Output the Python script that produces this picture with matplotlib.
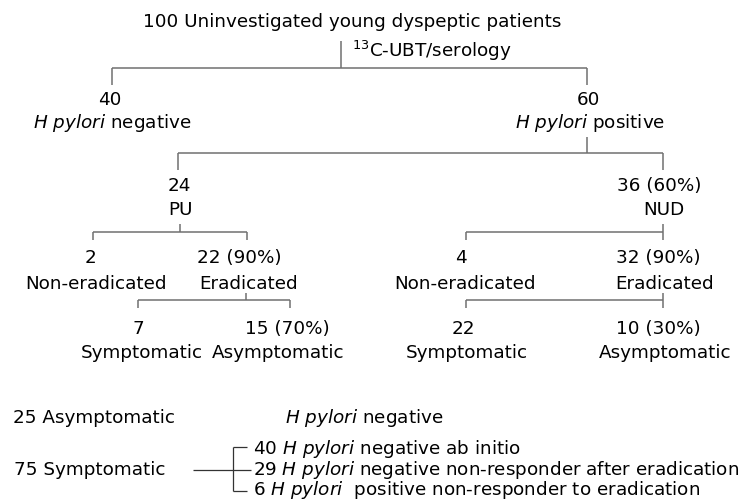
"""
Flow chart: outcome of test-and-treat in young dyspeptic patients.
Drawn on a pixel-sized axes (0..747 x 0..500, y downwards).
"""
import matplotlib
matplotlib.use("Agg")
import matplotlib.pyplot as plt

plt.rcParams["font.family"] = "DejaVu Sans"
plt.rcParams["mathtext.fontset"] = "custom"
plt.rcParams["mathtext.rm"] = "DejaVu Sans"
plt.rcParams["mathtext.it"] = "DejaVu Sans:italic"

HP = r"$\mathit{H\ pylori}$"

# ---- data -----------------------------------------------------------
root_label = "100 Uninvestigated young dyspeptic patients"
test_label = r"$^{13}$C-UBT/serology"

level1_counts = ["40", "60"]
level1_names = [HP + " negative", HP + " positive"]

level2_counts = ["24", "36 (60%)"]
level2_names = ["PU", "NUD"]

level3_counts = ["2", "22 (90%)", "4", "32 (90%)"]
level3_names = ["Non-eradicated", "Eradicated", "Non-eradicated", "Eradicated"]

level4_counts = ["7", "15 (70%)", "22", "10 (30%)"]
level4_names = ["Symptomatic", "Asymptomatic", "Symptomatic", "Asymptomatic"]

summary_asym = "25 Asymptomatic"
summary_asym_note = HP + " negative"
summary_sym = "75 Symptomatic"
summary_sym_items = [
    "40 " + HP + " negative ab initio",
    "29 " + HP + " negative non-responder after eradication",
    "6 " + HP + "  positive non-responder to eradication",
]

# ---- layout (pixels) -------------------------------------------------
L1_X = [110, 588]
L1_NAME_X = [112, 590]
L2_X = [179, 659]
L2_NAME_X = [180, 664]
L3_X = [91, 239, 461, 658]
L3_NAME_X = [96, 249, 465, 665]
L4_X = [138, 287, 463, 658]
L4_NAME_X = [142, 278, 467, 665]

FS = 13.2
TREE = dict(color="#707070", lw=1.1, solid_capstyle="butt")
DARK = dict(color="#333333", lw=0.9, solid_capstyle="butt")


def elbow(ax, x0, y0, ybar, xs, y1):
    """vertical stem from (x0,y0) to bar at ybar, then drops to y1 at xs"""
    ax.plot([x0, x0], [y0, ybar], **TREE)
    ax.plot([min(xs), max(xs)], [ybar, ybar], **TREE)
    for x in xs:
        ax.plot([x, x], [ybar, y1], **TREE)


def label_pair(ax, xs_c, xs_n, counts, names, yc, yn):
    for xc, xn, c, n in zip(xs_c, xs_n, counts, names):
        ax.text(xc, yc, c, ha="center", va="baseline", fontsize=FS)
        ax.text(xn, yn, n, ha="center", va="baseline", fontsize=FS)


fig = plt.figure(figsize=(7.47, 5.0), dpi=100)
ax = fig.add_axes([0, 0, 1, 1])
ax.set_xlim(0, 747)
ax.set_ylim(500, 0)
ax.axis("off")

# root
ax.text(352, 27, root_label, ha="center", va="baseline", fontsize=FS)
ax.text(352, 57, test_label, ha="left", va="baseline", fontsize=FS)
elbow(ax, 341, 41, 68, [112, 587], 85)

label_pair(ax, L1_X, L1_NAME_X, level1_counts, level1_names, 105, 128)

# H pylori positive -> PU / NUD
elbow(ax, 587, 137, 153, [178, 663], 170)
label_pair(ax, L2_X, L2_NAME_X, level2_counts, level2_names, 191, 215)

# PU and NUD -> eradication
elbow(ax, 180, 224, 232, [93, 247], 240)
elbow(ax, 663, 224, 232, [466, 663], 240)
label_pair(ax, L3_X, L3_NAME_X, level3_counts, level3_names, 263, 289)

# eradicated -> symptoms
elbow(ax, 246, 293, 300, [138, 290], 308)
elbow(ax, 663, 293, 300, [466, 663], 308)
label_pair(ax, L4_X, L4_NAME_X, level4_counts, level4_names, 334, 358)

# ---- summary ---------------------------------------------------------
ax.text(13, 423, summary_asym, ha="left", va="baseline", fontsize=FS)
ax.text(285, 423, summary_asym_note, ha="left", va="baseline", fontsize=FS)
ax.text(14, 475, summary_sym, ha="left", va="baseline", fontsize=FS)

item_y = [454, 475, 495]
bracket_y = [447, 470, 491]
ax.plot([193, 251], [bracket_y[1], bracket_y[1]], **DARK)
ax.plot([233, 233], [bracket_y[0], bracket_y[2]], **DARK)
ax.plot([233, 247], [bracket_y[0], bracket_y[0]], **DARK)
ax.plot([233, 247], [bracket_y[2], bracket_y[2]], **DARK)
for y, txt in zip(item_y, summary_sym_items):
    ax.text(253, y, txt, ha="left", va="baseline", fontsize=FS)

fig.savefig("out.png", dpi=100)
